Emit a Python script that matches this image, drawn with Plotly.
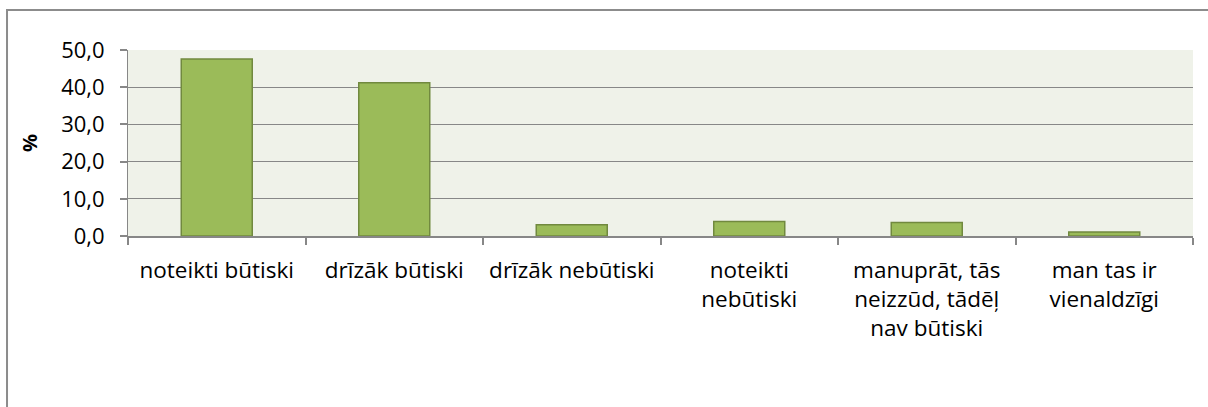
import plotly.graph_objects as go

categories = [
    "noteikti būtiski",
    "drīzāk būtiski",
    "drīzāk nebūtiski",
    "noteikti<br>nebūtiski",
    "manuprāt, tās<br>neizzūd, tādēļ<br>nav būtiski",
    "man tas ir<br>vienaldzīgi",
]
values = [47.6, 41.2, 3.0, 3.9, 3.6, 1.1]
y_ticks = [0, 10, 20, 30, 40, 50]

FONT = "Open Sans"
GRAY = "#878787"

fig = go.Figure(
    go.Bar(
        x=categories,
        y=values,
        marker=dict(color="#9BBB59", line=dict(color="#71893F", width=1.5)),
        hoverinfo="skip",
    )
)

fig.update_layout(
    width=1208,
    height=407,
    margin=dict(l=128, r=15, t=50, b=171),
    paper_bgcolor="white",
    plot_bgcolor="#EFF2E9",
    bargap=0.6,
    separators=",.",
    showlegend=False,
    font=dict(family=FONT, size=22, color="#000000"),
    shapes=[
        dict(
            type="rect", xref="paper", yref="paper",
            x0=-0.1136, x1=1.2, y0=-1.2, y1=1.215,
            line=dict(color="#8C8C8C", width=2), fillcolor="rgba(0,0,0,0)",
            layer="below",
        )
    ],
)

fig.update_xaxes(
    type="category",
    tickson="boundaries",
    ticks="outside",
    ticklen=7,
    tickcolor=GRAY,
    tickwidth=1.5,
    showline=True,
    linecolor=GRAY,
    linewidth=1.5,
    showgrid=False,
    tickfont=dict(family=FONT, size=22.5, color="#000000"),
    ticklabelstandoff=13,
)

fig.update_yaxes(
    range=[0, 50],
    tickmode="array",
    tickvals=y_ticks,
    tickformat=".1f",
    ticks="outside",
    ticklen=7,
    tickcolor=GRAY,
    tickwidth=1.5,
    showline=True,
    linecolor=GRAY,
    linewidth=1,
    showgrid=True,
    gridcolor=GRAY,
    gridwidth=1.2,
    zeroline=False,
    tickfont=dict(family=FONT, size=22, color="#000000"),
    ticklabelstandoff=11,
    title=dict(text="<b>%</b>", font=dict(family=FONT, size=20, color="#000000"), standoff=18),
)

fig.write_html(
    "out.html",
    config={"displayModeBar": False},
    post_script="document.body.style.margin='0px';",
)
